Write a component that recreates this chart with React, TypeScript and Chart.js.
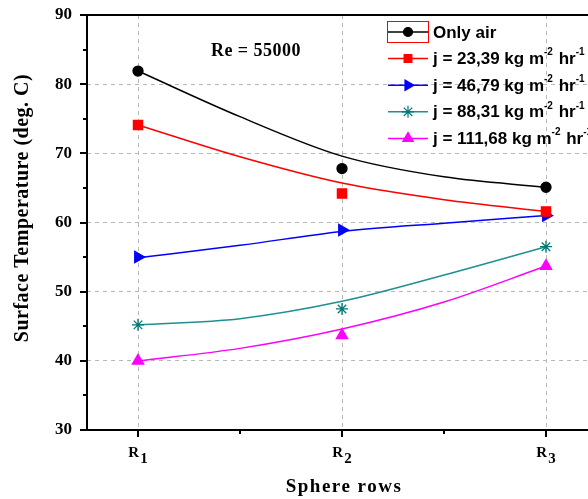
import React, { useEffect, useRef } from 'react';
import { Chart, registerables } from 'chart.js';
import { drawPoint } from 'chart.js/helpers';

Chart.register(...registerables);

// ---- data ----
const xValues = [1, 2, 3];
const xLabelMain = ['R', 'R', 'R'];
const xLabelSub = ['1', '2', '3'];
const xMinor = [1.5, 2.5];
const fitX = [1, 1.5, 2, 2.5, 3];
const yMin = 30;
const yMax = 90;
const yStep = 10;

const onlyAirPts = [81.9, 67.8, 65.1];
const onlyAirFit = [81.9, 75.3, 69.6, 66.6, 65.1];
const j2339Pts = [74.1, 64.2, 61.6];
const j2339Fit = [74.1, 69.5, 65.7, 63.3, 61.6];
const j4679Pts = [55.0, 58.9, 61.0];
const j4679Fit = [54.9, 56.7, 58.7, 59.9, 61.0];
const j8831Pts = [45.2, 47.5, 56.5];
const j8831Fit = [45.2, 46.1, 48.6, 52.4, 56.5];
const j11168Pts = [40.0, 43.7, 53.7];
const j11168Fit = [40.0, 41.8, 44.6, 48.5, 53.7];

const seriesNames = ['Only air', '23,39', '46,79', '88,31', '111,68'];
const annotationText = 'Re = 55000';
const xTitle = 'Sphere rows';
const yTitle = 'Surface Temperature (deg. C)';

// ---- styles ----
const SERIF = "'Liberation Serif', 'Times New Roman', serif";
const SANS = "'Liberation Sans', Arial, sans-serif";

const styles = [
  { line: '#000000', marker: '#000000', pointStyle: 'circle', rotation: 0, radius: 5, legendRadius: 4.5 },
  { line: '#ff0000', marker: '#ff0000', pointStyle: 'rect', rotation: 0, radius: 6.5, legendRadius: 5.5 },
  { line: '#0000ff', marker: '#0000ff', pointStyle: 'triangle', rotation: 90, radius: 6.5, legendRadius: 6 },
  { line: '#1f8f8f', marker: '#007878', pointStyle: 'star', rotation: 0, radius: 6, legendRadius: 6 },
  { line: '#ff00ff', marker: '#ff00ff', pointStyle: 'triangle', rotation: 0, radius: 6.5, legendRadius: 6 },
];

const pointSets = [onlyAirPts, j2339Pts, j4679Pts, j8831Pts, j11168Pts];
const fitSets = [onlyAirFit, j2339Fit, j4679Fit, j8831Fit, j11168Fit];

const toXY = (xs: number[], arr: number[]) => arr.map((y, i) => ({ x: xs[i], y }));

const decorPlugin = {
  id: 'decor',
  afterDraw(chart: any) {
    const { ctx, chartArea, scales } = chart;
    const { left, top, right, bottom } = chartArea;
    const xs = scales.x;
    const ys = scales.y;
    ctx.save();
    // frame
    ctx.strokeStyle = '#000';
    ctx.lineWidth = 2;
    ctx.setLineDash([]);
    ctx.beginPath();
    ctx.moveTo(right, top);
    ctx.lineTo(left, top);
    ctx.lineTo(left, bottom);
    ctx.lineTo(right, bottom);
    ctx.lineTo(right, top);
    ctx.stroke();
    // y ticks
    ctx.beginPath();
    for (let v = yMin; v <= yMax + 0.001; v += yStep / 2) {
      const py = Math.round(ys.getPixelForValue(v));
      const len = Math.abs(v % yStep) < 0.001 ? 7 : 4;
      ctx.moveTo(left, py);
      ctx.lineTo(left - len, py);
    }
    // x ticks
    xValues.forEach((v) => {
      const px = Math.round(xs.getPixelForValue(v));
      ctx.moveTo(px, bottom);
      ctx.lineTo(px, bottom + 7);
    });
    xMinor.forEach((v) => {
      const px = Math.round(xs.getPixelForValue(v));
      ctx.moveTo(px, bottom);
      ctx.lineTo(px, bottom + 4);
    });
    ctx.stroke();

    ctx.fillStyle = '#000';
    // x tick labels with subscripts
    ctx.textBaseline = 'alphabetic';
    ctx.textAlign = 'left';
    xValues.forEach((v, i) => {
      const px = xs.getPixelForValue(v);
      ctx.font = `bold 15px ${SERIF}`;
      const wMain = ctx.measureText(xLabelMain[i]).width;
      const wSub = ctx.measureText(xLabelSub[i]).width;
      const start = px - (wMain + wSub + 1) / 2;
      ctx.fillText(xLabelMain[i], start, bottom + 27);
      ctx.fillText(xLabelSub[i], start + wMain + 1, bottom + 33);
    });

    // titles
    ctx.textAlign = 'center';
    ctx.textBaseline = 'middle';
    ctx.save();
    ctx.font = `bold 20px ${SERIF}`;
    (ctx as any).letterSpacing = '0.5px';
    ctx.translate(23, 208);
    ctx.rotate(-Math.PI / 2);
    ctx.fillText(yTitle, 0, 0);
    ctx.restore();
    ctx.save();
    ctx.font = `bold 19px ${SERIF}`;
    (ctx as any).letterSpacing = '1.5px';
    ctx.fillText(xTitle, 344, 487);
    ctx.restore();

    // annotation
    ctx.save();
    ctx.font = `bold 18px ${SERIF}`;
    (ctx as any).letterSpacing = '0.5px';
    ctx.fillText(annotationText, 256, 51);
    ctx.restore();

    // legend
    const lx0 = 388;
    const lx1 = 428;
    const tx = 433;
    ctx.textAlign = 'left';
    ctx.textBaseline = 'middle';
    seriesNames.forEach((name, i) => {
      const st = styles[i];
      const ry = 32 + i * 26.6;
      ctx.strokeStyle = st.line;
      ctx.lineWidth = 1.5;
      ctx.beginPath();
      ctx.moveTo(lx0, ry);
      ctx.lineTo(lx1, ry);
      ctx.stroke();
      ctx.fillStyle = st.marker;
      ctx.strokeStyle = st.marker;
      ctx.lineWidth = 1.2;
      drawPoint(ctx, { pointStyle: st.pointStyle, rotation: st.rotation, radius: st.legendRadius, borderWidth: 1.2 } as any, (lx0 + lx1) / 2, ry);
      if (i === 0) {
        ctx.strokeStyle = '#ff0000';
        ctx.lineWidth = 1;
        ctx.strokeRect(lx0 - 0.5, ry - 10.5, lx1 - lx0 + 1, 21);
      }
      ctx.fillStyle = '#000';
      let x = tx;
      const parts: [string, boolean][] =
        i === 0
          ? [[name, false]]
          : [[`j = ${name} kg m`, false], ['-2', true], [' hr', false], ['-1', true]];
      parts.forEach(([t, sup]) => {
        ctx.font = sup ? `bold 10px ${SANS}` : `bold 17px ${SANS}`;
        ctx.fillText(t, x, sup ? ry - 6 : ry + 1);
        x += ctx.measureText(t).width + (sup ? 1 : 0);
      });
    });
    ctx.restore();
  },
};

export default function App() {
  const ref = useRef<HTMLCanvasElement>(null);
  useEffect(() => {
    if (!ref.current) return;
    const markerSets = pointSets.map((arr, i) => ({
      type: 'line',
      data: toXY(xValues, arr),
      showLine: false,
      pointStyle: styles[i].pointStyle,
      rotation: styles[i].rotation,
      pointRadius: styles[i].radius,
      pointBackgroundColor: styles[i].marker,
      pointBorderColor: styles[i].marker,
      pointBorderWidth: 1.3,
      borderColor: styles[i].marker,
    }));
    const fitLines = fitSets.map((arr, i) => ({
      type: 'line',
      data: toXY(fitX, arr),
      borderColor: styles[i].line,
      borderWidth: 1.5,
      pointRadius: 0,
      fill: false,
      cubicInterpolationMode: 'monotone',
    }));
    const gridColor = '#b8b8b8';
    const chart = new Chart(ref.current, {
      type: 'line',
      data: { datasets: [...markerSets, ...fitLines] as any },
      plugins: [decorPlugin],
      options: {
        animation: false,
        responsive: false,
        devicePixelRatio: 1,
        layout: { padding: { left: 0, top: 15, right: 23, bottom: 0 } },
        plugins: { legend: { display: false }, tooltip: { enabled: false } },
        scales: {
          x: {
            type: 'linear',
            min: 0.75,
            max: 3.25,
            afterBuildTicks: (s: any) => {
              s.ticks = xValues.map((v) => ({ value: v }));
            },
            afterFit: (s: any) => {
              s.height = 69;
              s.paddingLeft = 0;
              s.paddingRight = 0;
            },
            ticks: { display: false },
            grid: { color: gridColor, lineWidth: 1, drawTicks: false },
            border: { display: false, dash: [4, 4] },
          },
          y: {
            type: 'linear',
            min: yMin,
            max: yMax,
            afterFit: (s: any) => {
              s.width = 87;
              s.paddingTop = 0;
              s.paddingBottom = 0;
            },
            ticks: {
              stepSize: yStep,
              padding: 15,
              color: '#000',
              font: { family: SERIF, size: 17, weight: 'bold' },
            },
            grid: {
              color: (c: any) =>
                c.tick && (c.tick.value === yMin || c.tick.value === yMax) ? 'rgba(0,0,0,0)' : gridColor,
              lineWidth: 1,
              drawTicks: false,
            },
            border: { display: false, dash: [4, 4] },
          },
        },
      } as any,
    });
    return () => chart.destroy();
  }, []);
  return (
    <div
      style={{
        position: 'fixed',
        left: 0,
        top: 0,
        width: 588,
        height: 499,
        overflow: 'hidden',
        background: '#fff',
      }}
    >
      <canvas ref={ref} width={620} height={499} style={{ display: 'block', width: 620, height: 499 }} />
    </div>
  );
}
